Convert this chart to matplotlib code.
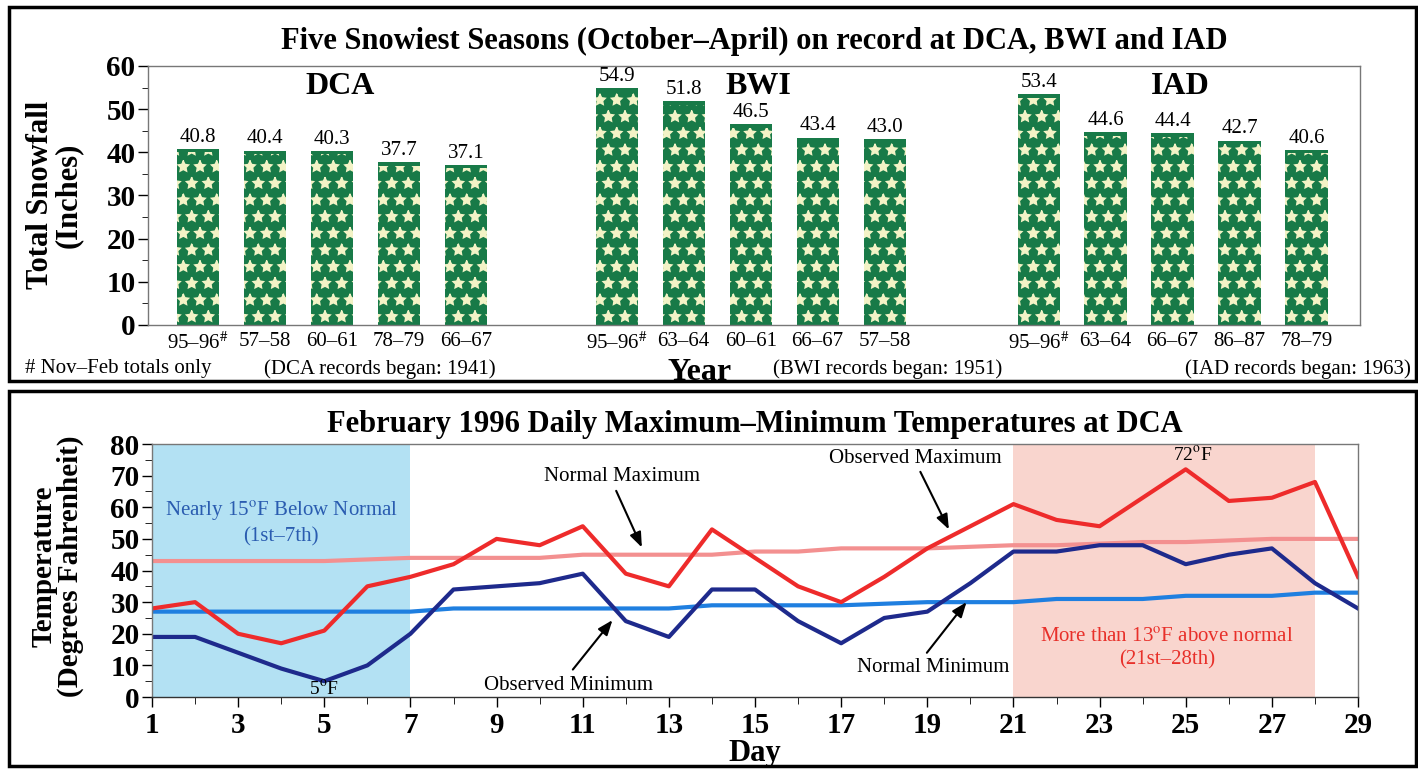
import numpy as np
import matplotlib.pyplot as plt
from matplotlib.patches import Rectangle
from matplotlib.ticker import MultipleLocator

plt.rcParams['font.family'] = ['Liberation Serif', 'DejaVu Serif']
plt.rcParams['mathtext.fontset'] = 'stix'
plt.rcParams['hatch.linewidth'] = 1.0

# top chart: five snowiest seasons
stations = ['DCA', 'BWI', 'IAD']
dca_years = [r'95–96$^{\#}$', '57–58', '60–61', '78–79', '66–67']
dca_snow = [40.8, 40.4, 40.3, 37.7, 37.1]
bwi_years = [r'95–96$^{\#}$', '63–64', '60–61', '66–67', '57–58']
bwi_snow = [54.9, 51.8, 46.5, 43.4, 43.0]
iad_years = [r'95–96$^{\#}$', '63–64', '66–67', '86–87', '78–79']
iad_snow = [53.4, 44.6, 44.4, 42.7, 40.6]

# bottom chart: February 1996 temperatures at DCA
days = list(range(1, 30))
obs_max = [28, 30, 20, 17, 21, 35, 38, 42, 50, 48, 54, 39, 35, 53, 44, 35, 30, 38,
           47, 54, 61, 56, 54, 63, 72, 62, 63, 68, 38]
obs_min = [19, 19, 14, 9, 5, 10, 20, 34, 35, 36, 39, 24, 19, 34, 34, 24, 17, 25,
           27, 36, 46, 46, 48, 48, 42, 45, 47, 36, 28]
norm_max = [43, 43, 43, 43, 43, 43.5, 44, 44, 44, 44, 45, 45, 45, 45, 46, 46, 47, 47,
            47, 47.5, 48, 48, 48.5, 49, 49, 49.5, 50, 50, 50]
norm_min = [27, 27, 27, 27, 27, 27, 27, 28, 28, 28, 28, 28, 28, 29, 29, 29, 29, 29.5,
            30, 30, 30, 31, 31, 31, 32, 32, 32, 33, 33]

green = '#187a48'
flake = '#f3f3c6'

fig = plt.figure(figsize=(14.18, 7.69), dpi=100)

# ---------- top panel ----------
ax = fig.add_axes([0.1044, 0.5774, 0.8547, 0.3368])
group_start = [0, 6.25, 12.55]
all_pos = []
all_labels = []
for start, name, yrs, vals in zip(group_start, stations,
                                  [dca_years, bwi_years, iad_years],
                                  [dca_snow, bwi_snow, iad_snow]):
    pos = start + np.arange(len(vals))
    ax.bar(pos, vals, width=0.63, color=green, linewidth=0)
    # snowflake pattern, leaving a thin green cap on each bar
    ax.bar(pos, np.array(vals) - 0.8, width=0.63, facecolor='none', edgecolor=flake,
           hatch='*', linewidth=0)
    for p, v in zip(pos, vals):
        ax.text(p, v + 0.5, f'{v:.1f}', ha='center', va='bottom', fontsize=15)
    ax.text(start + 2.12, 55.2, name, ha='center', va='center',
            fontsize=23, fontweight='bold')
    all_pos += list(pos)
    all_labels += yrs

ax.set_xlim(-0.75, 17.35)
ax.set_ylim(0, 60)
ax.set_xticks(all_pos)
ax.set_xticklabels(all_labels, fontsize=15)
ax.tick_params(axis='x', length=0, pad=5)
ax.yaxis.set_major_locator(MultipleLocator(10))
ax.yaxis.set_minor_locator(MultipleLocator(5))
ax.tick_params(axis='y', labelsize=21, length=7, width=1, pad=2)
ax.tick_params(axis='y', which='minor', length=4)
for lab in ax.get_yticklabels():
    lab.set_fontweight('bold')
for s in ax.spines.values():
    s.set_color('#777777')
    s.set_linewidth(1)
ax.set_title('Five Snowiest Seasons (October–April) on record at DCA, BWI and IAD',
             fontsize=22, fontweight='bold', pad=12)

fig.text(54 / 1418, 1 - 195 / 769, 'Total Snowfall\n(Inches)', rotation=90,
         ha='center', va='center', fontsize=22, fontweight='bold',
         multialignment='center', linespacing=0.95)
fig.text(25 / 1418, 1 - 369 / 769, '# Nov–Feb totals only', fontsize=15,
         ha='left', va='center')
fig.text(380 / 1418, 1 - 369 / 769, '(DCA records began: 1941)', fontsize=15,
         ha='center', va='center')
fig.text(888 / 1418, 1 - 369 / 769, '(BWI records began: 1951)', fontsize=15,
         ha='center', va='center')
fig.text(1411 / 1418, 1 - 369 / 769, '(IAD records began: 1963)', fontsize=15,
         ha='right', va='center')
fig.text(700 / 1418, 1 - 373 / 769, 'Year', fontsize=23, fontweight='bold',
         ha='center', va='center')

# ---------- bottom panel ----------
ax2 = fig.add_axes([0.1072, 0.0936, 0.8505, 0.3290])
ax2.axvspan(1, 7, color='#b3e1f3', lw=0)
ax2.axvspan(21, 28, color='#f9d5ce', lw=0)
ax2.plot(days, norm_max, color='#f39090', lw=3)
ax2.plot(days, norm_min, color='#1f7fe0', lw=3)
ax2.plot(days, obs_max, color='#ee2b2b', lw=3)
ax2.plot(days, obs_min, color='#1e2a8c', lw=3)

ax2.set_xlim(1, 29)
ax2.set_ylim(0, 80)
ax2.xaxis.set_minor_locator(MultipleLocator(1))
ax2.set_xticks(range(1, 30, 2))
ax2.yaxis.set_major_locator(MultipleLocator(10))
ax2.yaxis.set_minor_locator(MultipleLocator(5))
ax2.tick_params(axis='both', labelsize=21, length=7, width=1)
ax2.tick_params(axis='both', which='minor', length=5)
ax2.tick_params(axis='x', pad=4)
ax2.tick_params(axis='y', pad=2)
for lab in ax2.get_xticklabels() + ax2.get_yticklabels():
    lab.set_fontweight('bold')
for s in ax2.spines.values():
    s.set_color('#777777')
    s.set_linewidth(1)
ax2.spines['bottom'].set_color('#333333')
ax2.set_title('February 1996 Daily Maximum–Minimum Temperatures at DCA',
              fontsize=22, fontweight='bold', pad=9)
ax2.set_xlabel('Day', fontsize=22, fontweight='bold', labelpad=0)

fig.text(57 / 1418, 1 - 566 / 769, 'Temperature\n(Degrees Fahrenheit)', rotation=90,
         ha='center', va='center', fontsize=21, fontweight='bold',
         multialignment='center', linespacing=0.95)

deg = r'$^{\mathrm{o}}$'
ax2.text(4.0, 55, f'Nearly 15{deg}F Below Normal\n(1st–7th)', color='#2a5cb0',
         ha='center', va='center', fontsize=15, linespacing=1.25)
ax2.text(24.57, 15.2, f'More than 13{deg}F above normal\n(21st–28th)', color='#e8302a',
         ha='center', va='center', fontsize=15, linespacing=1.25)
ax2.text(5.0, 2.6, f'5{deg}F', ha='center', va='center', fontsize=14)
ax2.text(25.15, 76.6, f'72{deg}F', ha='center', va='center', fontsize=14)

arrow = dict(arrowstyle='-|>,head_length=0.9,head_width=0.35', color='black', lw=1.5)
ax2.text(11.91, 69.6, 'Normal Maximum', ha='center', va='center', fontsize=15)
ax2.annotate('', xy=(12.4, 46.5), xytext=(11.75, 66), arrowprops=arrow)
ax2.text(10.66, 3.5, 'Observed Minimum', ha='center', va='center', fontsize=15)
ax2.annotate('', xy=(11.73, 25), xytext=(10.73, 8), arrowprops=arrow)
ax2.text(18.72, 75.3, 'Observed Maximum', ha='center', va='center', fontsize=15)
ax2.annotate('', xy=(19.53, 52.2), xytext=(18.81, 72), arrowprops=arrow)
ax2.text(19.13, 9.2, 'Normal Minimum', ha='center', va='center', fontsize=15)
ax2.annotate('', xy=(19.95, 30.7), xytext=(18.95, 13.3), arrowprops=arrow)

# panel frames
fig.add_artist(Rectangle((9 / 1418, 1 - 381 / 769), 1407 / 1418, 374 / 769,
                         transform=fig.transFigure, fill=False, lw=2.5, ec='black'))
fig.add_artist(Rectangle((9 / 1418, 1 - 766 / 769), 1407 / 1418, 375 / 769,
                         transform=fig.transFigure, fill=False, lw=2.5, ec='black'))

fig.savefig('out.png', dpi=100)
